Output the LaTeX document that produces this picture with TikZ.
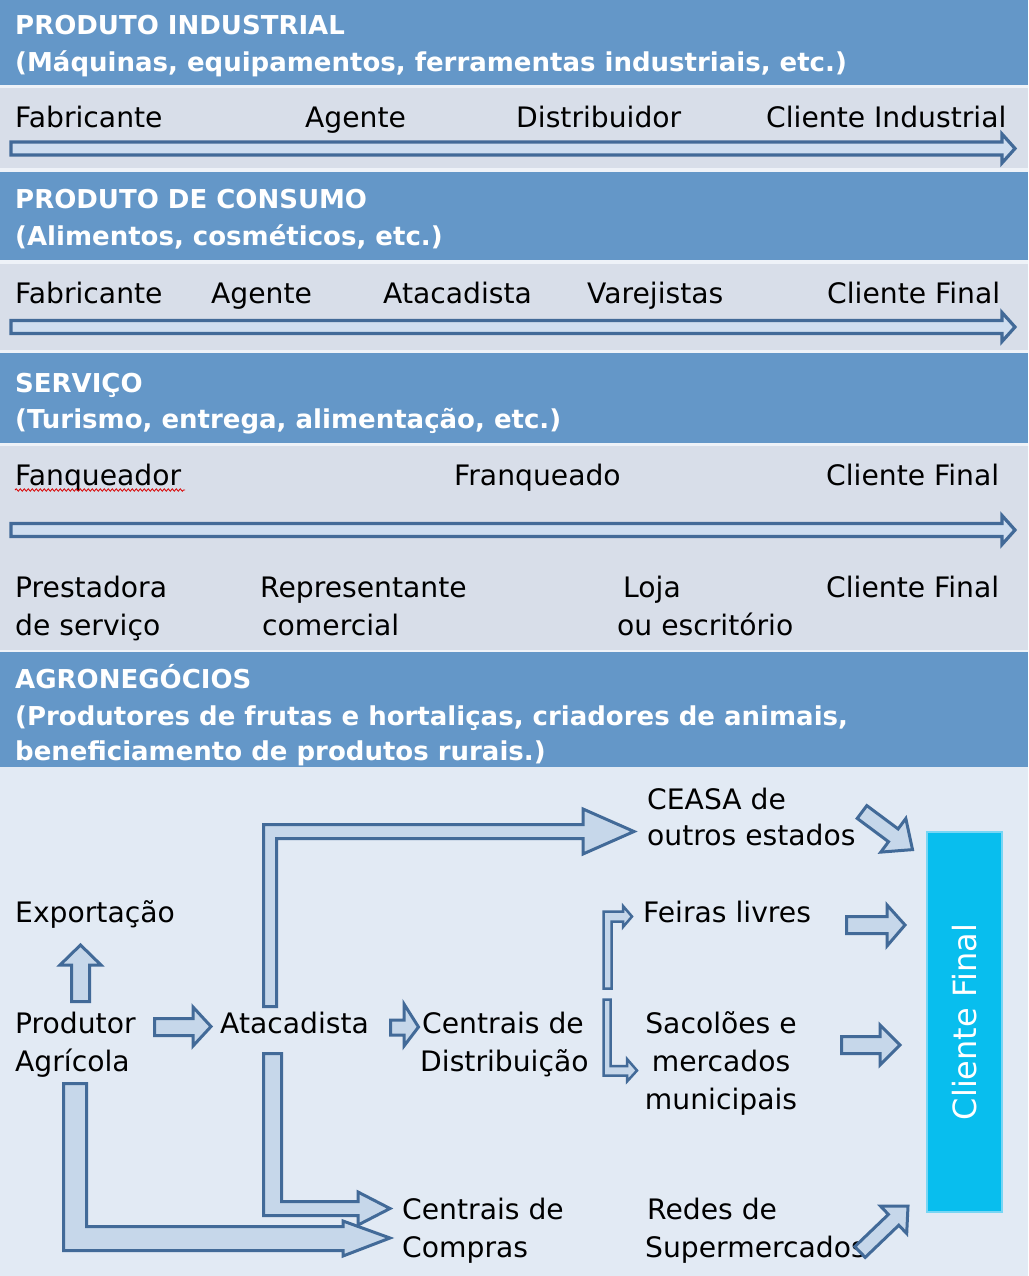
\documentclass[tikz,border=0pt]{standalone}
\usepackage{fontspec}
\setmainfont{DejaVu Sans}
\usetikzlibrary{decorations.pathmorphing}
\definecolor{hdrblue}{RGB}{100,151,200}
\definecolor{rowbg}{RGB}{216,222,233}
\definecolor{agrobg}{RGB}{226,234,244}
\definecolor{sepbg}{RGB}{238,242,248}
\definecolor{arrline}{RGB}{66,106,152}
\definecolor{arrfill}{RGB}{198,215,234}
\definecolor{rowfill}{RGB}{207,222,240}
\definecolor{cliente}{RGB}{8,190,238}
\definecolor{clienteborder}{RGB}{120,214,244}
\begin{document}
\begin{tikzpicture}[x=1pt,y=-1pt,
  hdr/.style={anchor=base west, inner sep=0pt, text=white, font=\bfseries\fontsize{26}{31}\selectfont},
  txt/.style={anchor=base west, inner sep=0pt, text=black, font=\fontsize{28.2}{34}\selectfont},
  ctxt/.style={anchor=base, inner sep=0pt, text=black, font=\fontsize{28.2}{34}\selectfont},
  rowarrow/.style={draw=arrline, fill=rowfill, line width=3.2pt, line join=miter},
  fat/.style={draw=arrline, fill=arrfill, line width=3pt, line join=miter},
  thin/.style={draw=arrline, fill=arrfill, line width=2.5pt, line join=miter}]
\useasboundingbox (0,0) rectangle (1028,1276);
% backgrounds
\fill[sepbg] (0,0) rectangle (1028,1276);
\fill[hdrblue] (0,0) rectangle (1028,85);
\fill[rowbg] (0,88) rectangle (1028,168);
\fill[hdrblue] (0,172) rectangle (1028,260);
\fill[rowbg] (0,264) rectangle (1028,350);
\fill[hdrblue] (0,353) rectangle (1028,443);
\fill[rowbg] (0,446) rectangle (1028,650);
\fill[hdrblue] (0,652) rectangle (1028,767);
\fill[agrobg] (0,767) rectangle (1028,1276);

% Section 1
\node[hdr] (h1a) at (15,35) {PRODUTO INDUSTRIAL};
\node[hdr] (h1b) at (15,72) {(Máquinas, equipamentos, ferramentas industriais, etc.)};
\node[txt] (r1a) at (15,128) {Fabricante};
\node[txt] (r1b) at (305,128) {Agente};
\node[txt] (r1c) at (516,128) {Distribuidor};
\node[txt] (r1d) at (766,128) {Cliente Industrial};
\draw[rowarrow] (11,142) -- (1002,142) -- (1002,134) -- (1015,148.5) -- (1002,163) -- (1002,155) -- (11,155) -- cycle;

% Section 2
\node[hdr] (h2a) at (15,208) {PRODUTO DE CONSUMO};
\node[hdr] (h2b) at (15,245) {(Alimentos, cosméticos, etc.)};
\node[txt] (r2a) at (15,303) {Fabricante};
\node[txt] (r2b) at (211,303) {Agente};
\node[txt] (r2c) at (383,303) {Atacadista};
\node[txt] (r2d) at (587,303) {Varejistas};
\node[txt] (r2e) at (827,303) {Cliente Final};
\draw[rowarrow] (11,320.5) -- (1002,320.5) -- (1002,312.5) -- (1015,327) -- (1002,341.5) -- (1002,333.5) -- (11,333.5) -- cycle;

% Section 3
\node[hdr] (h3a) at (15,392) {SERVIÇO};
\node[hdr] (h3b) at (15,428) {(Turismo, entrega, alimentação, etc.)};
\node[txt] (r3a) at (15,485) {Fanqueador};
\draw[red!85!black, line width=0.8pt, decorate, decoration={snake, amplitude=1.2pt, segment length=4pt}] (r3a.base west) ++(0,5) coordinate (sq1) -- ++(170,0) coordinate (sq2);
\node[txt] (r3b) at (454,485) {Franqueado};
\node[txt] (r3c) at (826,485) {Cliente Final};
\draw[rowarrow] (11,523.5) -- (1002,523.5) -- (1002,515.5) -- (1015,530) -- (1002,544.5) -- (1002,536.5) -- (11,536.5) -- cycle;
\node[txt] (r3d1) at (15,597) {Prestadora};
\node[txt] (r3d2) at (15,635) {de serviço};
\node[txt] (r3e1) at (260,597) {Representante};
\node[txt] (r3e2) at (262,635) {comercial};
\node[txt] (r3f1) at (623,597) {Loja};
\node[txt] (r3f2) at (617,635) {ou escritório};
\node[txt] (r3g) at (826,597) {Cliente Final};

% Section 4 header
\node[hdr] (h4a) at (15,688) {AGRONEGÓCIOS};
\node[hdr] (h4b) at (15,725) {(Produtores de frutas e hortaliças, criadores de animais,};
\node[hdr] (h4c) at (15,760) {beneficiamento de produtos rurais.)};

% Agro texts
\node[txt] (exp) at (15,922) {Exportação};
\node[txt] (prod1) at (15,1033) {Produtor};
\node[txt] (prod2) at (15,1071) {Agrícola};
\node[txt] (atac) at (220,1033) {Atacadista};
\node[txt] (cd1) at (422,1033) {Centrais de};
\node[txt] (cd2) at (420,1071) {Distribuição};
\node[txt] (cc1) at (402,1219) {Centrais de};
\node[txt] (cc2) at (402,1257) {Compras};
\node[txt] (ceasa1) at (647,809) {CEASA de};
\node[txt] (ceasa2) at (647,845) {outros estados};
\node[txt] (feiras) at (643,922) {Feiras livres};
\node[ctxt] (sac1) at (721,1033) {Sacolões e};
\node[ctxt] (sac2) at (721,1071) {mercados};
\node[ctxt] (sac3) at (721,1109) {municipais};
\node[txt] (redes1) at (647,1219) {Redes de};
\node[txt] (redes2) at (645,1257) {Supermercados};

% Cliente Final box
\node[draw=clienteborder, fill=cliente, line width=1.5pt, minimum width=75pt, minimum height=380pt, inner sep=0pt] (cf) at (964.5,1022) {};
\node[rotate=90, text=white, inner sep=0pt, font=\fontsize{32}{38}\selectfont] (cft) at (cf.center) {Cliente Final};

% Agro arrows
% Produtor -> Exportacao
\draw[fat] (71.5,1001.5) -- (71.5,965) -- (60,965) -- (80.5,945) -- (101,965) -- (89.5,965) -- (89.5,1001.5) -- cycle;
% Produtor -> Atacadista
\draw[fat] (154.5,1018.5) -- (193,1018.5) -- (193,1007) -- (211,1026.5) -- (193,1046) -- (193,1035.5) -- (154.5,1035.5) -- cycle;
% Atacadista -> CEASA
\draw[fat] (263.5,1006.5) -- (263.5,824.5) -- (583,824.5) -- (583,809) -- (634,831.5) -- (583,854) -- (583,838.5) -- (276.5,838.5) -- (276.5,1006.5) -- cycle;
% Atacadista -> Centrais de Distribuicao
\draw[fat] (390.5,1020) -- (404,1020) -- (404,1004) -- (418.5,1027) -- (404,1046) -- (404,1035) -- (390.5,1035) -- cycle;
% Produtor -> Centrais de Compras
\draw[fat] (63.5,1083.5) -- (63.5,1250.5) -- (343,1250.5) -- (343,1256) -- (390,1238) -- (343,1221) -- (343,1226.5) -- (86.5,1226.5) -- (86.5,1083.5) -- cycle;
% Atacadista -> Centrais de Compras
\draw[fat] (263.5,1053.5) -- (263.5,1215.5) -- (358,1215.5) -- (358,1225) -- (390,1208.5) -- (358,1192) -- (358,1201.5) -- (281.5,1201.5) -- (281.5,1053.5) -- cycle;
% Centrais de Distribuicao -> Feiras livres
\draw[thin] (603.5,988.5) -- (603.5,911.5) -- (623,911.5) -- (623,906) -- (632,916.5) -- (623,927) -- (623,921.5) -- (611.5,921.5) -- (611.5,988.5) -- cycle;
% Centrais de Distribuicao -> Sacoloes
\draw[thin] (603.5,999.5) -- (603.5,1075.5) -- (627,1075.5) -- (627,1081.5) -- (637,1070.5) -- (627,1059) -- (627,1066) -- (610.5,1066) -- (610.5,999.5) -- cycle;
% CEASA -> Cliente Final
\draw[fat] (866.8,805.6) -- (898.1,828.9) -- (905.8,818.5) -- (912.5,849.6) -- (880.8,852.1) -- (888.5,841.7) -- (857.2,818.4) -- cycle;
% Feiras -> Cliente Final
\draw[fat] (846.5,916.5) -- (887,916.5) -- (887,905) -- (905,925) -- (887,946) -- (887,933.5) -- (846.5,933.5) -- cycle;
% Sacoloes -> Cliente Final
\draw[fat] (841.5,1036.5) -- (880,1036.5) -- (880,1025) -- (900,1045) -- (880,1065) -- (880,1053.5) -- (841.5,1053.5) -- cycle;
% Redes -> Cliente Final
\draw[fat] (854.8,1246.6) -- (888.4,1214.4) -- (880.5,1206.1) -- (908,1206) -- (906.7,1233.5) -- (898.8,1225.2) -- (865.2,1257.4) -- cycle;
\end{tikzpicture}
\end{document}
